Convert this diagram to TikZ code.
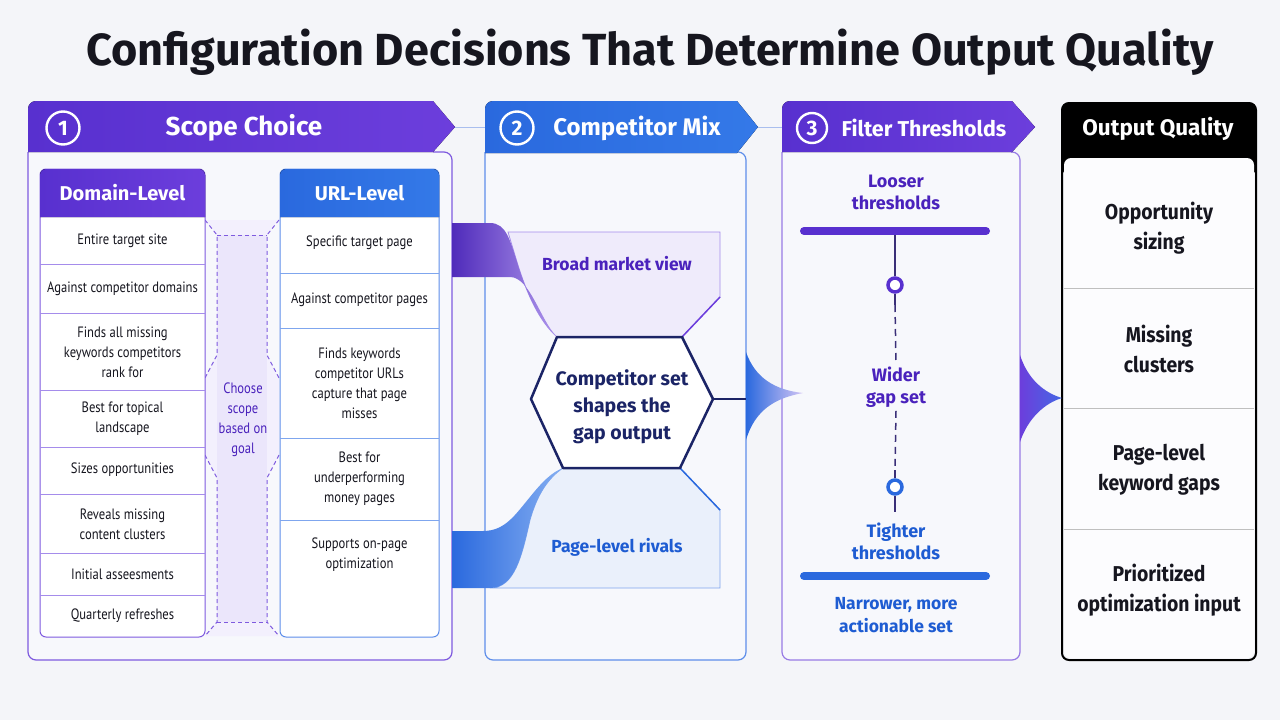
\documentclass[tikz,border=0pt]{standalone}
\usepackage{fontspec}
\setmainfont{Fira Sans}
\newfontfamily\cellfont[FakeStretch=0.84]{PT Sans}
\newfontfamily\outfont[FakeStretch=0.9]{Fira Sans}
\usetikzlibrary{calc}

\definecolor{paper}{HTML}{F4F5F9}
\definecolor{ink}{HTML}{16161F}
\definecolor{violetA}{HTML}{5830CF}
\definecolor{violetB}{HTML}{6C3EDC}
\definecolor{violetline}{HTML}{7E5ADF}
\definecolor{violetrule}{HTML}{A58CEB}
\definecolor{violettext}{HTML}{4A22BC}
\definecolor{blueA}{HTML}{2A69DE}
\definecolor{blueB}{HTML}{3479E8}
\definecolor{blueline}{HTML}{5E8EEA}
\definecolor{bluerule}{HTML}{7FA6EE}
\definecolor{bluetext}{HTML}{1E5CD2}
\definecolor{navy}{HTML}{1B2466}
\definecolor{bandfill}{HTML}{EBE6FB}
\definecolor{broadfill}{HTML}{EFEBFB}
\definecolor{pagefill}{HTML}{EAF0FB}
\definecolor{bodyfill}{HTML}{F7F8FC}
\definecolor{linkline}{HTML}{A9BEEE}
\definecolor{stemline}{HTML}{3A2F78}

\tikzset{
  titletext/.style={font=\bfseries\fontsize{45}{52}\selectfont, text=ink},
  headtext/.style={font=\bfseries\fontsize{26}{30}\selectfont, text=white},
  numring/.style={circle, draw=white, line width=2.4pt, minimum size=33pt, inner sep=0pt,
    text=white, font=\bfseries\fontsize{21}{21}\selectfont},
  colhead/.style={font=\bfseries\fontsize{20}{24}\selectfont, text=white},
  cell/.style={align=center, font=\cellfont\fontsize{15}{20}\selectfont, text=ink},
  domrule/.style={draw=violetrule, line width=0.9pt},
  urlrule/.style={draw=bluerule, line width=0.9pt},
  banddash/.style={draw=violetline, line width=1pt, dash pattern=on 4pt off 3pt},
  headlink/.style={draw=linkline, line width=1pt},
  flowtext/.style={align=center, font=\bfseries\fontsize{18}{22}\selectfont},
  hextext/.style={align=center, font=\bfseries\fontsize{19.5}{27}\selectfont, text=navy},
  tierbar/.style={line width=8pt, line cap=round},
  knob/.style={circle, fill=white, line width=3.5pt, minimum size=14pt, inner sep=0pt},
  outtext/.style={align=center, font=\outfont\bfseries\fontsize{21.5}{30}\selectfont, text=ink},
  outrule/.style={draw=black!25, line width=1pt}
}

\begin{document}
\begin{tikzpicture}[x=1pt,y=-1pt]
  \fill[paper] (0,0) rectangle (1280,720);
  \useasboundingbox (0,0) rectangle (1280,720);

  \node[titletext] (title) at (650,52) {Configuration Decisions That Determine Output Quality};

  % --- 1: scope choice ---
  \filldraw[fill=bodyfill, draw=violetline, line width=1.2pt]
    (433,152) -- (444,152) arc[start angle=-90,end angle=0,radius=8] -- (452,652)
    arc[start angle=0,end angle=90,radius=8] -- (36,660)
    arc[start angle=90,end angle=180,radius=8] -- (28,152);
  \fill[left color=violetA, right color=violetB]
    (28,152) -- (28,109) arc[start angle=180,end angle=270,radius=8] -- (433,101)
    -- (455,127) coordinate (scopetip) -- (433,152) -- cycle;
  \node[numring] (num1) at (63,128) {1};
  \node[headtext] (scopehead) at (244,128) {Scope Choice};

  % band between the two columns
  \fill[bandfill!60] (205,220) -- (217,235) -- (217,355) -- (205,378) -- (205,455) -- (217,478)
    -- (217,622) -- (205,636) -- (279,636) -- (267,622) -- (267,478) -- (279,455) -- (279,378)
    -- (267,355) -- (267,235) -- (279,220) -- cycle;
  \fill[bandfill] (217,235) rectangle (267,622);
  \draw[banddash] (205,220) -- (217,235) -- (217,355) -- (205,378);
  \draw[banddash] (205,455) -- (217,478) -- (217,622) -- (205,636);
  \draw[banddash] (279,220) -- (267,235) -- (267,355) -- (279,378);
  \draw[banddash] (279,455) -- (267,478) -- (267,622) -- (279,636);
  \draw[banddash] (217,235) -- (267,235);
  \draw[banddash] (217,622) -- (267,622);
  \node[cell, text=violettext] (choose) at (243,420) {Choose\\scope\\based on\\goal};

  % domain-level column
  \filldraw[fill=white, draw=violetline, line width=1pt, rounded corners=6pt] (40,169) rectangle (205,637);
  \fill[left color=violetA, right color=violetB]
    (40,217) -- (40,175) arc[start angle=180,end angle=270,radius=6] -- (199,169)
    arc[start angle=270,end angle=360,radius=6] -- (205,217) -- cycle;
  \node[colhead] (domhead) at (122.5,193) {Domain-Level};
  \foreach \yy in {264,313,390,447,494,553,595}
    \draw[domrule] (40,\yy) -- (205,\yy);
  \node[cell] (dom1) at (122.5,241) {Entire target site};
  \node[cell] (dom2) at (122.5,289) {Against competitor domains};
  \node[cell] (dom3) at (122.5,352) {Finds all missing\\keywords competitors\\rank for};
  \node[cell] (dom4) at (122.5,419) {Best for topical\\landscape};
  \node[cell] (dom5) at (122.5,470) {Sizes opportunities};
  \node[cell] (dom6) at (122.5,524) {Reveals missing\\content clusters};
  \node[cell] (dom7) at (122.5,574) {Initial asseesments};
  \node[cell] (dom8) at (122.5,616) {Quarterly refreshes};

  % url-level column
  \filldraw[fill=white, draw=blueline, line width=1pt, rounded corners=6pt] (280,169) rectangle (439,637);
  \fill[left color=blueA, right color=blueB]
    (280,217) -- (280,175) arc[start angle=180,end angle=270,radius=6] -- (433,169)
    arc[start angle=270,end angle=360,radius=6] -- (439,217) -- cycle;
  \node[colhead] (urlhead) at (359.5,193) {URL-Level};
  \foreach \yy in {273,328,438,520}
    \draw[urlrule] (280,\yy) -- (439,\yy);
  \node[cell] (url1) at (359.5,243) {Specific target page};
  \node[cell] (url2) at (359.5,300) {Against competitor pages};
  \node[cell] (url3) at (359.5,383) {Finds keywords\\competitor URLs\\capture that page\\misses};
  \node[cell] (url4) at (359.5,479) {Best for\\underperforming\\money pages};
  \node[cell] (url5) at (359.5,555) {Supports on-page\\optimization};

  % --- 2: competitor mix ---
  \filldraw[fill=bodyfill, draw=blueline, line width=1.2pt]
    (737,152) -- (738,152) arc[start angle=-90,end angle=0,radius=8] -- (746,652)
    arc[start angle=0,end angle=90,radius=8] -- (493,660)
    arc[start angle=90,end angle=180,radius=8] -- (485,152);
  \fill[left color=blueA, right color=blueB]
    (485,153) -- (485,109) arc[start angle=180,end angle=270,radius=8] -- (737,101)
    -- (758,127) coordinate (mixtip) -- (737,153) -- cycle;
  \coordinate (mixin) at (485,127);
  \node[numring] (num2) at (517,128) {2};
  \node[headtext, font=\bfseries\fontsize{24}{28}\selectfont] (mixhead) at (637,128) {Competitor Mix};

  % --- 3: filter thresholds ---
  \filldraw[fill=bodyfill, draw=violetline!80, line width=1.2pt]
    (1011,152) -- (1012,152) arc[start angle=-90,end angle=0,radius=8] -- (1020,652)
    arc[start angle=0,end angle=90,radius=8] -- (790,660)
    arc[start angle=90,end angle=180,radius=8] -- (782,152);
  \fill[left color=violetA, right color=violetB]
    (782,152) -- (782,109) arc[start angle=180,end angle=270,radius=8] -- (1012,101)
    -- (1035,127) -- (1012,152) -- cycle;
  \coordinate (filterin) at (782,127);
  \node[numring, minimum size=30pt] (num3) at (812,128) {3};
  \node[headtext, font=\bfseries\fontsize{21.5}{26}\selectfont] (filterhead) at (924,128) {Filter Thresholds};

  \draw[headlink] (scopetip) -- (mixin);
  \draw[headlink] (mixtip) -- (filterin);

  \node[flowtext, text=violettext] (loose) at (896,192) {Looser\\thresholds};
  \draw[tierbar, violetA] (804,231) coordinate (loosebarL) -- (986,231) coordinate (loosebarR);
  \node[knob, draw=violetA] (knobtop) at (895,285) {};
  \node[knob, draw=blueA] (knobbot) at (895,487) {};
  \node[flowtext, text=violettext] (wider) at (896,387) {Wider\\gap set};
  \draw[stemline, line width=1.5pt] (895,235) -- (knobtop);
  \draw[stemline, line width=1.5pt] (knobtop) -- (895,305);
  \draw[stemline, line width=1.5pt, dash pattern=on 7pt off 5pt] (895,305) -- (wider.north);
  \draw[stemline, line width=1.5pt, dash pattern=on 7pt off 5pt] (wider.south) -- (895,470);
  \draw[stemline, line width=1.5pt] (895,470) -- (knobbot);
  \draw[stemline, line width=1.5pt] (knobbot) -- (895,512);
  \node[flowtext, text=bluetext] (tight) at (896,541) {Tighter\\thresholds};
  \draw[tierbar, blueA] (804,576) coordinate (tightbarL) -- (986,576) coordinate (tightbarR);
  \node[flowtext, text=bluetext, font=\bfseries\fontsize{17.5}{23}\selectfont] (narrow) at (896,615) {Narrower, more\\actionable set};

  % --- output quality ---
  \fill[black, rounded corners=7pt] (1062,103) rectangle (1256,175);
  \fill[white!60!bodyfill, rounded corners=7pt] (1064,158) rectangle (1254,658);
  \draw[black, line width=2pt, rounded corners=7pt] (1062,103) rectangle (1256,660);
  \node[headtext, font=\bfseries\fontsize{22.5}{26}\selectfont] (outhead) at (1158,129) {Output Quality};
  \foreach \yy in {288,408,529}
    \draw[outrule] (1064,\yy) -- (1254,\yy);
  \node[outtext] (out1) at (1159,228) {Opportunity\\sizing};
  \node[outtext] (out2) at (1159,349) {Missing\\clusters};
  \node[outtext] (out3) at (1159,470) {Page-level\\keyword gaps};
  \node[outtext] (out4) at (1159,590) {Prioritized\\optimization input};

  % --- flows through competitor mix ---
  \filldraw[fill=broadfill, draw=violetrule, line width=0.8pt]
    (517,262) -- (508,232) -- (720,232) -- (720,297) -- (682,337) -- (557,337)
    .. controls (540,322) and (527,295) .. (517,262) -- cycle;
  \draw[violetB, line width=1.5pt] (720,297) -- (682,337);
  \node[flowtext, text=violettext, font=\bfseries\fontsize{17.5}{22}\selectfont] (broad) at (617,264) {Broad market view};

  \filldraw[fill=pagefill, draw=bluerule, line width=0.8pt]
    (563,468) -- (680,468) -- (720,510) -- (720,588) -- (490,588)
    .. controls (515,588) and (522,555) .. (530,520)
    .. controls (537,495) and (548,478) .. (563,468) -- cycle;
  \draw[blueA, line width=1.5pt] (680,468) -- (720,510);
  \node[flowtext, text=bluetext, font=\bfseries\fontsize{17.5}{22}\selectfont] (rivals) at (617,547) {Page-level rivals};

  \shade[left color=violetA!90!black, right color=violetB!55!white]
    (452,223) -- (490,223) .. controls (506,223) and (510,240) .. (517,262)
    .. controls (527,295) and (540,322) .. (557,337)
    .. controls (540,320) and (530,277) .. (510,277) -- (452,277) -- cycle;
  \shade[left color=blueA, right color=blueB!60!white]
    (452,531) -- (483,531) .. controls (505,531) and (515,515) .. (530,497)
    .. controls (542,482) and (552,472) .. (563,468)
    .. controls (548,478) and (537,495) .. (530,520)
    .. controls (522,555) and (515,588) .. (490,588) -- (452,588) -- cycle;

  \filldraw[fill=white, draw=navy, line width=2.5pt, line join=round]
    (557,337) coordinate (hexnw) -- (682,337) coordinate (hexne) -- (713,399) coordinate (hexe)
    -- (680,468) coordinate (hexse) -- (563,468) coordinate (hexsw) -- (531,399) coordinate (hexw) -- cycle;
  \node[hextext] (coreset) at (622,407) {Competitor set\\shapes the\\gap output};
  \coordinate (mixedge) at (746,399);

  % hand-off shapes between the panels
  \shade[left color=blueA, right color=violetB!30!white]
    (746,352) .. controls (755,378) and (775,390) .. (803,393)
    .. controls (775,398) and (755,410) .. (746,440) -- cycle;
  \draw[navy, line width=2pt] (hexe) -- (mixedge);
  \shade[left color=violetB, right color=blueB!70!violetB]
    (1020,355) .. controls (1028,380) and (1045,393) .. (1062,398)
    .. controls (1045,403) and (1028,418) .. (1020,442) -- cycle;
\end{tikzpicture}
\end{document}
